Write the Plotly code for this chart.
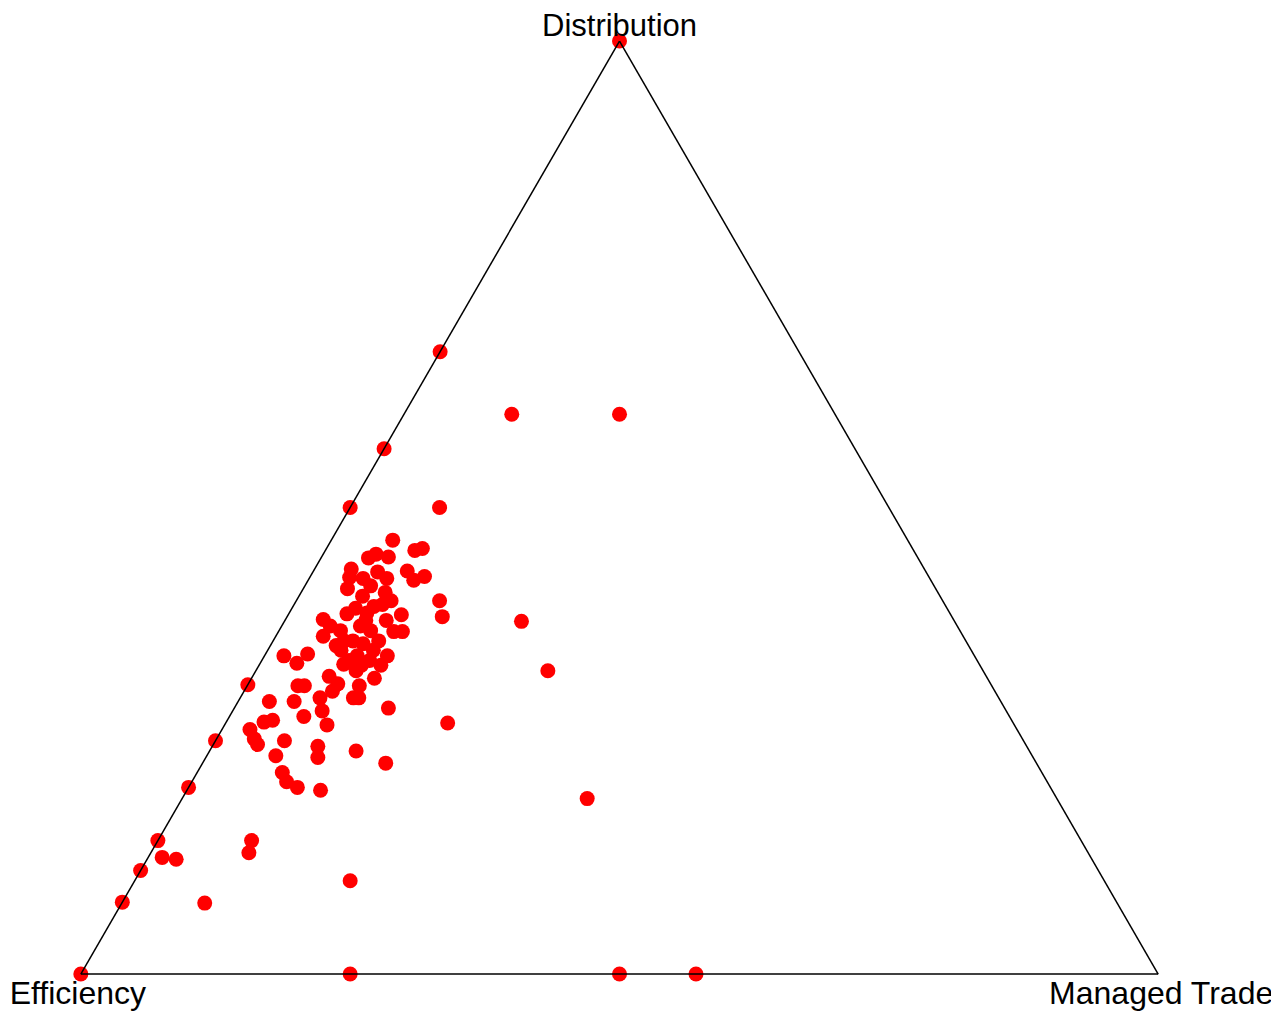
import plotly.graph_objects as go

# Ternary compositions (Distribution, Efficiency, Managed Trade)
distribution = [1.000, .667, .563, .500, .600, .600, .500, .310, .250, .200, .143, .111, .077, 0.0, 0.0, 0.0, 0.0,
                .125, .123, .076, .143, .130, .100, .188, .269, .325, .378, .383, .400, .226, .239, .197, .232,
                .244, .200, .206, .216, .234, .250, .246, .252, .262, .270, .272, .292, .292, .276, .282, .267,
                .309, .309, .296, .341, .333, .343, .285, .296, .296, .303, .319, .311, .465, .450, .446, .454,
                .456, .434, .425, .431, .424, .416, .432, .422, .426, .413, .405, .409, .400, .394, .392, .386,
                .387, .385, .379, .380, .373, .368, .362, .367, .367, .373, .368, .357, .354, .347, .347, .341,
                .336, .331, .332, .317, .325, .379, .341, .336, .357, .357, .309, .331, .352, .424, .396, .447]
managed_trade = [0.0, 0.0, 0.0, 0.0, .100, .200, .083, 0.0, 0.0, 0.0, 0.0, 0.0, 0.0, 0.0, .250, .500, .571,
                 .013, .027, .077, .087, .091, .200, .376, .206, .271, .220, .144, .133, .170, .136, .124, .104,
                 .098, .101, .088, .079, .064, .064, .041, .035, .026, .035, .042, .029, .052, .069, .083, .095,
                 .047, .053, .074, .018, .034, .039, .143, .110, .105, .082, .071, .083, .057, .049, .044, .083,
                 .089, .034, .037, .060, .072, .061, .087, .098, .106, .041, .059, .078, .088, .075, .059, .054,
                 .072, .105, .094, .035, .045, .057, .044, .107, .115, .073, .085, .074, .085, .068, .098, .114,
                 .081, .095, .078, .114, .093, .075, .086, .100, .098, .066, .104, .113, .061, .050, .082, .062]
efficiency = [0.0, .333, .437, .500, .300, .200, .417, .690, .750, .800, .857, .889, .923, 1.0, .750, .500, .429,
              .862, .850, .847, .770, .779, .700, .436, .525, .404, .402, .473, .467, .604, .625, .679, .664,
              .658, .699, .706, .705, .702, .686, .713, .713, .712, .695, .686, .679, .656, .655, .635, .638,
              .644, .638, .630, .641, .633, .618, .572, .594, .599, .615, .610, .606, .478, .501, .510, .463,
              .455, .532, .538, .509, .504, .523, .481, .480, .468, .546, .536, .513, .512, .531, .549, .560,
              .541, .510, .527, .585, .582, .575, .594, .526, .518, .554, .547, .569, .561, .585, .555, .545,
              .583, .574, .590, .569, .582, .546, .573, .564, .545, .577, .587, .556, .587, .526, .522, .491]

axis_titles = ["Distribution", "Efficiency", "Managed Trade"]

fig = go.Figure(go.Scatterternary(
    a=distribution, b=efficiency, c=managed_trade,
    mode="markers",
    cliponaxis=False,
    marker=dict(color="#ff0000", size=15, line=dict(width=0)),
    hoverinfo="skip",
))

font = dict(family="Liberation Sans, Arial, sans-serif", size=32, color="black")
top_font = dict(family="Liberation Sans, Arial, sans-serif", size=31, color="black")

def ax(title):
    return dict(title=dict(text=title, font=font), showticklabels=False, ticks="",
                showgrid=False, linecolor="black", linewidth=1.5, showline=True, min=0)

fig.update_layout(
    width=1279, height=1018,
    paper_bgcolor="white", plot_bgcolor="white",
    margin=dict(l=53, r=109, t=33, b=52),
    showlegend=False,
    ternary=dict(
        bgcolor="white", sum=1,
        aaxis=ax(""),
        baxis=ax(axis_titles[1]),
        caxis=ax(axis_titles[2]),
    ),
    annotations=[dict(
        text=axis_titles[0], xref="paper", yref="paper",
        x=0.5, y=1.0161, xanchor="center", yanchor="middle",
        showarrow=False, font=top_font,
    )],
)

fig.write_html("out.html")
